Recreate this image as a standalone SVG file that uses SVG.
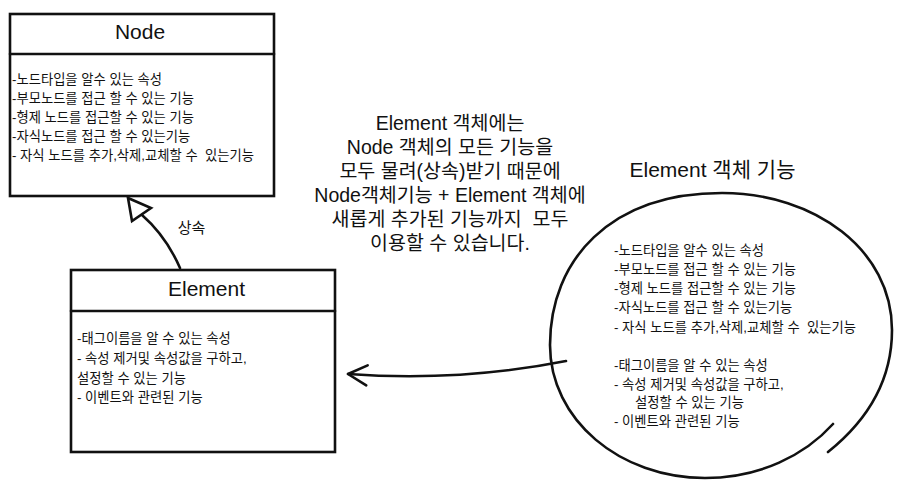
<svg xmlns="http://www.w3.org/2000/svg" width="920" height="492" viewBox="0 0 920 492" xml:space="preserve">
<style>
  text { font-family: "Liberation Sans", "Noto Sans CJK KR", sans-serif; fill: #111; white-space: pre; }
  .title { font-size: 21px; text-anchor: middle; }
  .body { font-size: 13.3px; }
  .center { font-size: 19.5px; text-anchor: middle; }
  .box { fill: #fff; stroke: #111; stroke-width: 2.6; }
  .line { fill: none; stroke: #111; stroke-width: 2.6; stroke-linecap: round; stroke-linejoin: round; }
</style>
<defs>
  <marker id="openArrow" viewBox="0 0 26 26" refX="23" refY="13" markerWidth="26" markerHeight="26" markerUnits="userSpaceOnUse" orient="auto">
    <path d="M 4 3 L 23 13 L 4 23" fill="none" stroke="#111" stroke-width="2.6" stroke-linecap="round" stroke-linejoin="round"/>
  </marker>
</defs>
<rect width="920" height="492" fill="#fff"/>

<g id="connectors">
  <path class="line" d="M 180 268 Q 166 236 142 215"/>
  <polygon points="128,198 132,221 151,208" fill="#fff" stroke="#111" stroke-width="2.6" stroke-linejoin="miter"/>
  <text x="191.5" y="233" style="font-size:15px;text-anchor:middle">상속</text>
  <path class="line" d="M 566 361 Q 460 382 348 374" marker-end="url(#openArrow)"/>
</g>

<g id="node-Node">
  <rect class="box" x="10" y="14" width="264" height="182"/>
  <line class="line" x1="10" y1="54" x2="274" y2="54"/>
  <text class="title" x="140" y="39">Node</text>
  <text class="body" x="12" y="84">-노드타입을 알수 있는 속성</text>
  <text class="body" x="12" y="103">-부모노드를 접근 할 수 있는 기능</text>
  <text class="body" x="12" y="122">-형제 노드를 접근할 수 있는 기능</text>
  <text class="body" x="12" y="141">-자식노드를 접근 할 수 있는기능</text>
  <text class="body" x="12" y="160">- 자식 노드를 추가,삭제,교체할 수  있는기능</text>
</g>

<g id="node-Element">
  <rect class="box" x="71" y="270" width="264" height="182"/>
  <line class="line" x1="71" y1="311" x2="335" y2="311"/>
  <text class="title" x="206.5" y="296">Element</text>
  <text class="body" x="77" y="343">-태그이름을 알 수 있는 속성</text>
  <text class="body" x="77" y="363">- 속성 제거및 속성값을 구하고,</text>
  <text class="body" x="77" y="383">설정할 수 있는 기능</text>
  <text class="body" x="77" y="402">- 이벤트와 관련된 기능</text>
</g>

<g id="note-center">
  <text class="center" x="450" y="129.5">Element 객체에는</text>
  <text class="center" x="450" y="153.5">Node 객체의 모든 기능을</text>
  <text class="center" x="450" y="177.5">모두 물려(상속)받기 때문에</text>
  <text class="center" x="450" y="201.5">Node객체기능 + Element 객체에</text>
  <text class="center" x="450" y="225.5">새롭게 추가된 기능까지  모두</text>
  <text class="center" x="450" y="249.5">이용할 수 있습니다.</text>
</g>

<g id="node-ElementFeatures">
  <path class="line" d="M 828 452 C 868 420 892 380 892 330 C 892 250 815 193 722 193 C 610 193 550 260 550 345 C 550 420 620 478 705 478 C 760 478 805 455 833 424"/>
  <text class="title" x="712.5" y="177">Element 객체 기능</text>
  <text class="body" x="614" y="255">-노드타입을 알수 있는 속성</text>
  <text class="body" x="614" y="274">-부모노드를 접근 할 수 있는 기능</text>
  <text class="body" x="614" y="293">-형제 노드를 접근할 수 있는 기능</text>
  <text class="body" x="614" y="312">-자식노드를 접근 할 수 있는기능</text>
  <text class="body" x="614" y="332">- 자식 노드를 추가,삭제,교체할 수  있는기능</text>
  <text class="body" x="614" y="369.5">-태그이름을 알 수 있는 속성</text>
  <text class="body" x="614" y="388.5">- 속성 제거및 속성값을 구하고,</text>
  <text class="body" x="635" y="407">설정할 수 있는 기능</text>
  <text class="body" x="614" y="426">- 이벤트와 관련된 기능</text>
</g>
</svg>
